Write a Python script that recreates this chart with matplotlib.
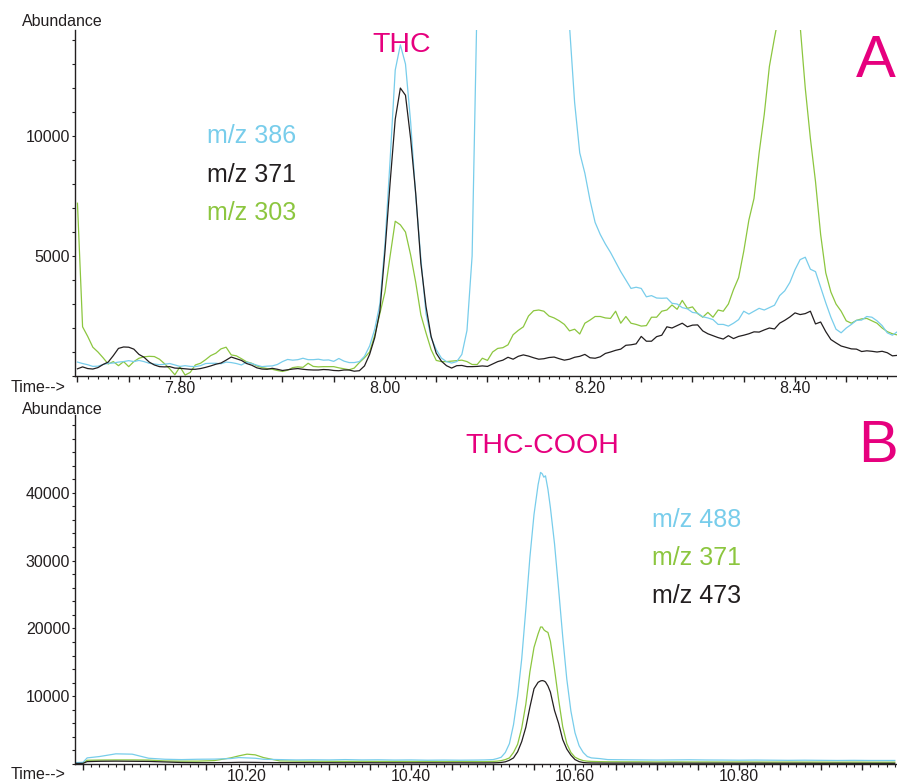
import numpy as np
import matplotlib
matplotlib.use("Agg")
import matplotlib.pyplot as plt
from matplotlib.ticker import MultipleLocator, FuncFormatter

plt.rcParams['font.family'] = ['Liberation Sans', 'DejaVu Sans']

# ---------------- panel A : THC (7.70 - 8.50 min, 0.005 min steps) -------------
t_top = np.round(7.70 + 0.005 * np.arange(161), 3)

mz386_top = [
    580, 520, 470, 400, 410, 480, 530, 540, 580, 600,
    640, 600, 650, 600, 530, 500, 470, 490, 520, 460,
    400, 430, 400, 390, 430, 520, 530, 530, 510, 580,
    560, 520, 460, 580, 520, 450, 390, 410, 420, 480,
    600, 690, 660, 680, 740, 680, 680, 700, 660, 670,
    610, 730, 620, 560, 560, 600, 820, 1250, 1950, 3000,
    5500, 9000, 12750, 13800, 13000, 10600, 7500, 4900, 2600, 1600,
    1100, 750, 600, 540, 600, 900, 1900, 5000, 16000, 30000,
    40000, 48000, 54000, 58000, 60000, 61000, 60000, 58000, 54000, 48000,
    42000, 36000, 30000, 25000, 20000, 16500, 14600, 11400, 9300, 8450,
    7330, 6400, 5900, 5500, 5150, 4750, 4350, 4000, 3650, 3700,
    3650, 3300, 3350, 3250, 3240, 3250, 3030, 3000, 2850, 2800,
    2650, 2620, 2470, 2420, 2350, 2150, 2150, 2080, 2200, 2350,
    2700, 2580, 2700, 2820, 2750, 2850, 2950, 3350, 3550, 3900,
    4430, 4850, 4950, 4450, 4350, 3700, 3050, 2450, 1950, 1800,
    2000, 2150, 2320, 2330, 2480, 2450, 2300, 2100, 1800, 1700,
    1850]

mz371_top = [
    300, 380, 310, 290, 350, 480, 580, 850, 1150, 1210,
    1200, 1120, 900, 780, 580, 460, 390, 380, 390, 330,
    320, 300, 280, 280, 310, 360, 420, 490, 540, 660,
    790, 720, 650, 520, 450, 340, 290, 280, 320, 280,
    230, 260, 290, 310, 280, 260, 250, 250, 270, 260,
    230, 220, 250, 250, 200, 220, 420, 900, 1600, 2700,
    5200, 8050, 10700, 12000, 11700, 9900, 7600, 4700, 2900, 1650,
    950, 620, 430, 330, 430, 440, 390, 390, 400, 420,
    400, 500, 600, 660, 780, 700, 820, 880, 830, 760,
    700, 720, 770, 790, 720, 660, 700, 780, 820, 900,
    760, 740, 800, 940, 1000, 1070, 1120, 1280, 1300, 1340,
    1650, 1450, 1450, 1640, 1700, 2050, 2000, 2100, 2200, 2050,
    2120, 2130, 1880, 1760, 1680, 1600, 1540, 1680, 1560, 1650,
    1700, 1760, 1840, 1830, 1920, 2000, 1960, 2200, 2320, 2460,
    2630, 2560, 2600, 2700, 2170, 2250, 1850, 1520, 1380, 1250,
    1190, 1130, 1120, 1020, 1050, 1030, 1000, 1030, 970, 840,
    860]

mz303_top = [
    7200, 2050, 1650, 1200, 1000, 760, 500, 600, 430, 600,
    390, 600, 740, 800, 820, 810, 700, 510, 300, 50,
    380, 40, 150, 460, 530, 680, 850, 950, 1130, 1200,
    880, 840, 720, 590, 530, 420, 350, 310, 280, 230,
    190, 240, 350, 380, 360, 530, 400, 380, 390, 390,
    390, 340, 300, 260, 330, 560, 760, 1000, 1700, 2600,
    3500, 5000, 6450, 6300, 6000, 5050, 3900, 2550, 1800, 1100,
    650, 600, 600, 620, 640, 660, 600, 480, 480, 740,
    650, 1000, 1150, 1180, 1300, 1720, 1900, 2050, 2500, 2720,
    2750, 2700, 2500, 2420, 2300, 2150, 1880, 1950, 1750, 2200,
    2330, 2480, 2480, 2420, 2400, 2700, 2200, 2480, 2200, 2150,
    2080, 2100, 2450, 2450, 2700, 2750, 2960, 2780, 3150, 2820,
    2880, 2600, 2450, 2650, 2450, 2750, 2700, 3000, 3600, 4100,
    5200, 6500, 7400, 9300, 10900, 12900, 14100, 15200, 16200, 16500,
    15800, 14600, 12000, 9900, 8100, 5900, 4300, 3500, 3000, 2700,
    2300, 2200, 2320, 2380, 2400, 2300, 2200, 2000, 1850, 1760,
    1710]

# ---------------- panel B : THC-COOH --------------------------------------------
t_bot = [9.990, 10.000, 10.005, 10.02, 10.04, 10.06, 10.08, 10.10, 10.12, 10.14,
         10.16, 10.18, 10.19, 10.20, 10.21, 10.22, 10.24, 10.26, 10.28, 10.30,
         10.32, 10.34, 10.36, 10.38, 10.40, 10.42, 10.44, 10.46, 10.48,
         10.490, 10.500, 10.505, 10.510, 10.515, 10.520, 10.525, 10.530, 10.535, 10.540,
         10.545, 10.550, 10.555, 10.558, 10.560, 10.562, 10.564, 10.567, 10.570, 10.575,
         10.580, 10.585, 10.590, 10.595, 10.600, 10.605, 10.610, 10.615, 10.620, 10.630,
         10.640,
         10.66, 10.68, 10.70, 10.72, 10.74, 10.76, 10.78, 10.80, 10.82, 10.84,
         10.86, 10.88, 10.90, 10.92, 10.94, 10.96, 10.98, 10.99]

mz488_bot = [200, 250, 900, 1100, 1500, 1450, 850, 700, 650, 700,
             720, 800, 950, 900, 850, 700, 650, 600, 620, 600,
             650, 600, 620, 580, 600, 560, 580, 560, 580,
             600, 650, 800, 1000, 1700, 3000, 5800, 10000, 15500, 22800,
             30500, 36800, 41200, 43000, 42800, 42300, 42500, 40500, 37800, 32500,
             25800, 18800, 12500, 7800, 4600, 2700, 1700, 1100, 900, 800,
             650,
             620, 600, 580, 600, 620, 590, 580, 560, 580, 560,
             540, 560, 540, 520, 540, 520, 520, 520]

mz371_bot = [100, 120, 550, 580, 600, 600, 580, 450, 420, 420,
             500, 900, 1200, 1450, 1350, 950, 450, 420, 400, 400,
             380, 400, 380, 380, 370, 380, 360, 370, 350,
             350, 380, 420, 500, 650, 900, 1700, 2900, 5300, 8800,
             13600, 17200, 19200, 20200, 20200, 19800, 19600, 19400, 18100, 14000,
             9500, 5500, 3000, 1700, 1000, 700, 500, 420, 380, 350,
             330,
             320, 320, 300, 310, 300, 300, 290, 300, 290, 280,
             290, 280, 280, 270, 280, 270, 270, 270]

mz473_bot = [80, 100, 350, 400, 420, 400, 380, 300, 220, 200,
             200, 220, 250, 250, 240, 220, 200, 200, 190, 190,
             180, 190, 180, 180, 170, 180, 170, 170, 160,
             160, 170, 190, 230, 320, 550, 900, 1800, 3300, 5400,
             8400, 11100, 12050, 12250, 12300, 12250, 12100, 11500, 10600, 7900,
             6000, 3600, 2200, 1300, 650, 350, 220, 170, 150, 140,
             130,
             130, 130, 120, 130, 120, 120, 120, 110, 120, 110,
             110, 110, 100, 110, 100, 100, 100, 100]

xlabels_top = ['7.80', '8.00', '8.20', '8.40']
xlabels_bot = ['10.20', '10.40', '10.60', '10.80']
ylabels_top = ['5000', '10000']
ylabels_bot = ['10000', '20000', '30000', '40000']

BLUE = '#78CDEB'
GREEN = '#8CC63F'
BLACK = '#231F20'
PINK = '#E6007E'

W, H = 897, 784
fig = plt.figure(figsize=(W / 100, H / 100), dpi=100)
fig.patch.set_facecolor('white')

ax1 = fig.add_axes([75 / W, (H - 376) / H, 822 / W, 346 / H])
ax2 = fig.add_axes([75 / W, (H - 764) / H, 822 / W, 349 / H])

ax1.plot(t_top, mz303_top, color=GREEN, lw=0.9)
ax1.plot(t_top, mz386_top, color=BLUE, lw=0.9)
ax1.plot(t_top, mz371_top, color=BLACK, lw=0.9)

ax2.plot(t_bot, mz371_bot, color=GREEN, lw=0.9)
ax2.plot(t_bot, mz488_bot, color=BLUE, lw=0.9)
ax2.plot(t_bot, mz473_bot, color=BLACK, lw=0.9)

ax1.set_xlim(7.6976, 8.4995)
ax1.set_ylim(0, 14420)
ax2.set_xlim(9.9902, 10.9927)
ax2.set_ylim(0, 51470)


def make_fmt(labels, fstr):
    def f(v, pos):
        s = fstr % v
        return s if s in labels else ''
    return FuncFormatter(f)


for ax, ymaj, ymin, xl, yl in [(ax1, 5000, 1000, xlabels_top, ylabels_top),
                               (ax2, 10000, 2000, xlabels_bot, ylabels_bot)]:
    for s in ['top', 'right']:
        ax.spines[s].set_visible(False)
    for s in ['left', 'bottom']:
        ax.spines[s].set_linewidth(1.0)
        ax.spines[s].set_color(BLACK)
    ax.xaxis.set_major_locator(MultipleLocator(0.05))
    ax.xaxis.set_minor_locator(MultipleLocator(0.01))
    ax.xaxis.set_major_formatter(make_fmt(xl, '%.2f'))
    ax.yaxis.set_major_locator(MultipleLocator(ymaj))
    ax.yaxis.set_minor_locator(MultipleLocator(ymin))
    ax.yaxis.set_major_formatter(make_fmt(yl, '%d'))
    ax.tick_params(axis='x', which='major', length=4.3, width=1.0, pad=-0.5,
                   labelsize=11.5, colors=BLACK)
    ax.tick_params(axis='x', which='minor', length=2.2, width=0.8, colors=BLACK)
    ax.tick_params(axis='y', which='major', length=2.5, width=0.8, pad=1,
                   labelsize=11.5, colors=BLACK)
    ax.tick_params(axis='y', which='minor', length=2, width=0.8, colors=BLACK)


def px_text(x, y, s, **kw):
    fig.text(x / W, 1 - y / H, s, va='baseline', ha='left', **kw)


px_text(22, 26, 'Abundance', fontsize=11.5, color=BLACK)
px_text(22, 414, 'Abundance', fontsize=11.5, color=BLACK)
px_text(11, 392, 'Time-->', fontsize=11.5, color=BLACK)
px_text(11, 779, 'Time-->', fontsize=11.5, color=BLACK)

px_text(372, 52, 'THC', fontsize=20.5, color=PINK)
px_text(465, 453, 'THC-COOH', fontsize=20.5, color=PINK)
px_text(856, 77, 'A', fontsize=43, color=PINK)
px_text(858, 462, 'B', fontsize=43, color=PINK)

px_text(207, 143, 'm/z 386', fontsize=18, color=BLUE)
px_text(207, 182, 'm/z 371', fontsize=18, color=BLACK)
px_text(207, 220, 'm/z 303', fontsize=18, color=GREEN)

px_text(652, 527, 'm/z 488', fontsize=18, color=BLUE)
px_text(652, 565, 'm/z 371', fontsize=18, color=GREEN)
px_text(652, 603, 'm/z 473', fontsize=18, color=BLACK)

fig.savefig('out.png', dpi=100)
